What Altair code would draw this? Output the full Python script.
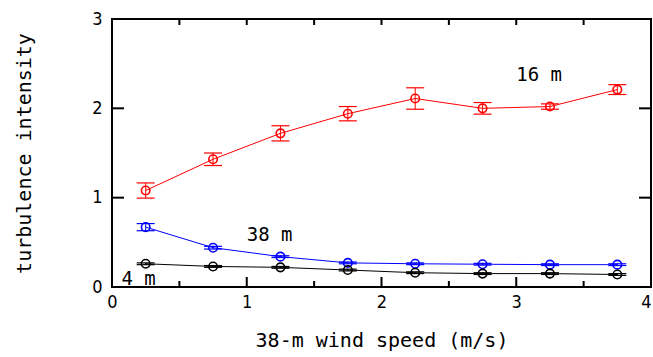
import altair as alt
import pandas as pd

# Wind speed bins at 38 m (m/s)
speed = [0.25, 0.75, 1.25, 1.75, 2.25, 2.75, 3.25, 3.75]

# Turbulence intensity and its uncertainty at each measurement height
ti_16 = [1.08, 1.43, 1.72, 1.94, 2.11, 2.00, 2.02, 2.21]
err_16 = [0.085, 0.07, 0.085, 0.08, 0.12, 0.065, 0.03, 0.055]
ti_38 = [0.67, 0.44, 0.34, 0.27, 0.26, 0.255, 0.25, 0.25]
err_38 = [0.04, 0.015, 0.01, 0.01, 0.01, 0.01, 0.01, 0.01]
ti_4 = [0.26, 0.23, 0.22, 0.19, 0.16, 0.15, 0.15, 0.14]
err_4 = [0.01, 0.01, 0.01, 0.01, 0.01, 0.01, 0.01, 0.01]

heights = ["16 m", "38 m", "4 m"]
colors = ["#ff0000", "#0000ff", "#000000"]

# Series labels placed beside their curves
label_text = ["16 m", "38 m", "4 m"]
label_x = [3.0, 1.0, 0.07]
label_y = [2.37, 0.58, 0.09]

# Frame tick positions
x_major = [1, 2, 3]
x_minor = [0.5, 1.5, 2.5, 3.5]
x_top = [0.5, 1, 1.5, 2, 2.5, 3, 3.5]
y_major = [1, 2]

W, H = 539, 268
MONO = "DejaVu Sans Mono"
NARROW = "Liberation Sans Narrow, DejaVu Sans Condensed, sans-serif"

rows = []
for h, vals, errs in [("16 m", ti_16, err_16), ("38 m", ti_38, err_38), ("4 m", ti_4, err_4)]:
    for s, v, e in zip(speed, vals, errs):
        rows.append({"speed": s, "ti": v, "lo": v - e, "hi": v + e, "height": h})
df = pd.DataFrame(rows)

xscale = alt.Scale(domain=[0, 4], nice=False, zero=False)
yscale = alt.Scale(domain=[0, 3], nice=False, zero=False)
cscale = alt.Scale(domain=heights, range=colors)

x_enc = alt.X(
    "speed:Q", scale=xscale,
    axis=alt.Axis(title="38-m wind speed (m/s)", values=[0, 1, 2, 3, 4], format="d",
                  ticks=False, domain=False, grid=False, labelPadding=6, labelFlush=False,
                  labelAlign=alt.expr("datum.value == 4 ? 'right' : 'center'"),
                  titleY=59, titleBaseline="alphabetic"),
)
y_enc = alt.Y(
    "ti:Q", scale=yscale,
    axis=alt.Axis(title="turbulence intensity", values=[0, 1, 2, 3], format="d",
                  ticks=False, domain=False, grid=False, labelPadding=10, labelFlush=False,
                  titleX=-82, titleBaseline="alphabetic"),
)
col = alt.Color("height:N", scale=cscale, legend=None)

base = alt.Chart(df)

lines = base.mark_line(strokeWidth=1).encode(x=x_enc, y=y_enc, color=col, detail="height:N")
bars = base.mark_rule(strokeWidth=1).encode(
    x=alt.X("speed:Q", scale=xscale), y=alt.Y("lo:Q", scale=yscale), y2="hi:Q", color=col)
cap_lo = base.mark_rule(strokeWidth=1.2, xOffset=-9, x2Offset=9).encode(
    x=alt.X("speed:Q", scale=xscale), x2="speed:Q", y=alt.Y("lo:Q", scale=yscale), color=col)
cap_hi = base.mark_rule(strokeWidth=1.2, xOffset=-9, x2Offset=9).encode(
    x=alt.X("speed:Q", scale=xscale), x2="speed:Q", y=alt.Y("hi:Q", scale=yscale), color=col)
points = base.mark_point(shape="circle", filled=False, size=72, strokeWidth=1.6, opacity=1).encode(
    x=alt.X("speed:Q", scale=xscale), y=alt.Y("ti:Q", scale=yscale), color=col)

labels = alt.Chart(pd.DataFrame({"t": label_text, "x": label_x, "y": label_y})).mark_text(
    font=MONO, fontSize=19, align="left", baseline="middle", color="black"
).encode(x=alt.X("x:Q", scale=xscale), y=alt.Y("y:Q", scale=yscale), text="t:N")

# Inward-pointing frame ticks
tk = dict(color="black", strokeWidth=2)
bot_major = alt.Chart(pd.DataFrame({"v": x_major})).mark_rule(**tk).encode(
    x=alt.X("v:Q", scale=xscale), y=alt.value(H), y2=alt.value(H - 10))
bot_minor = alt.Chart(pd.DataFrame({"v": x_minor})).mark_rule(**tk).encode(
    x=alt.X("v:Q", scale=xscale), y=alt.value(H), y2=alt.value(H - 6))
top_ticks = alt.Chart(pd.DataFrame({"v": x_top})).mark_rule(**tk).encode(
    x=alt.X("v:Q", scale=xscale), y=alt.value(0), y2=alt.value(6))
left_ticks = alt.Chart(pd.DataFrame({"v": y_major})).mark_rule(**tk).encode(
    y=alt.Y("v:Q", scale=yscale), x=alt.value(0), x2=alt.value(12))
right_ticks = alt.Chart(pd.DataFrame({"v": y_major})).mark_rule(**tk).encode(
    y=alt.Y("v:Q", scale=yscale), x=alt.value(W), x2=alt.value(W - 12))

chart = alt.layer(
    lines, bars, cap_lo, cap_hi, points, labels,
    bot_major, bot_minor, top_ticks, left_ticks, right_ticks,
).properties(
    width=W, height=H,
    autosize=alt.AutoSizeParams(type="none"),
    padding={"left": 112, "top": 19, "right": 2, "bottom": 70},
).configure_view(
    stroke="black", strokeWidth=2,
).configure_axis(
    labelFont=NARROW, labelFontSize=18, labelColor="black",
    titleFont=MONO, titleFontSize=20, titleFontWeight="normal", titleColor="black",
)

chart.save("out.html", embed_options={"renderer": "svg", "actions": False})
